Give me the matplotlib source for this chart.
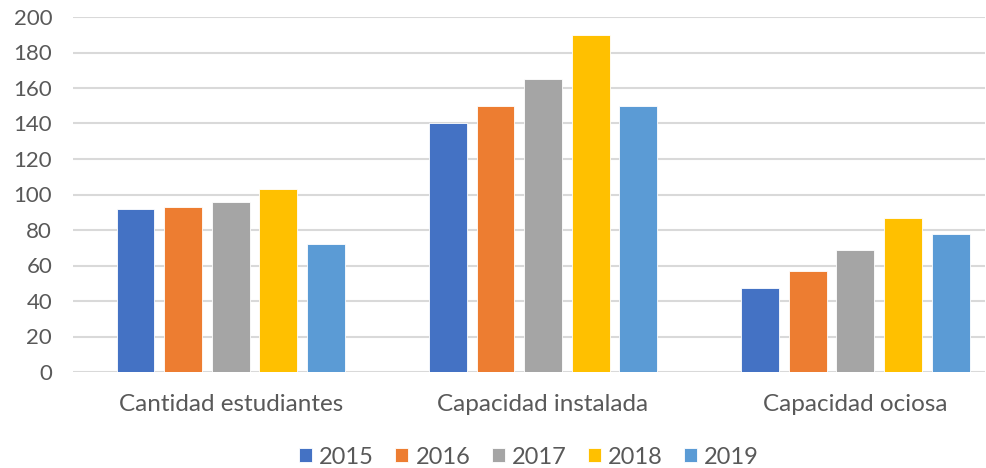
import numpy as np
from matplotlib import pyplot as plt

plt.rcParams['font.family'] = ['Lato', 'DejaVu Sans']

categories = ["Cantidad estudiantes", "Capacidad instalada", "Capacidad ociosa"]
years = ["2015", "2016", "2017", "2018", "2019"]
v2015 = [92, 140, 47.5]
v2016 = [93, 150, 57]
v2017 = [96, 165, 68.5]
v2018 = [103, 190, 86.5]
v2019 = [72, 150, 78]
colors = ['#4472C4', '#ED7D31', '#A5A5A5', '#FFC000', '#5B9BD5']

series = [v2015, v2016, v2017, v2018, v2019]
x = np.arange(len(categories))
step = 0.1525
width = 0.121

fig = plt.figure(figsize=(9.87, 4.68), dpi=100)
ax = fig.add_axes([73 / 987, 1 - 372 / 468, (985 - 73) / 987, (372 - 17) / 468])

for i, (vals, year) in enumerate(zip(series, years)):
    ax.bar(x + (i - 2) * step, vals, width, color=colors[i], label=year,
           zorder=3, edgecolor='white', linewidth=0.6)

ax.set_ylim(0, 200)
ax.set_yticks(range(0, 201, 20))
ax.set_xlim(-0.505, 2.415)
ax.set_xticks(x)
ax.set_xticklabels(categories)
ax.grid(axis='y', color='#D9D9D9', linewidth=1.5, zorder=0)
for s in ax.spines.values():
    s.set_visible(False)
ax.tick_params(axis='both', length=0, colors='#595959')
ax.tick_params(axis='x', pad=16, labelsize=17.5)
ax.tick_params(axis='y', pad=15, labelsize=16)

ax.legend(loc='center', bbox_to_anchor=(0.5, -0.24), ncol=5, frameon=False,
          fontsize=17, handlelength=0.55, handleheight=0.55, handletextpad=0.3,
          columnspacing=0.9, labelcolor='#595959')

fig.savefig('out.png', dpi=100)
